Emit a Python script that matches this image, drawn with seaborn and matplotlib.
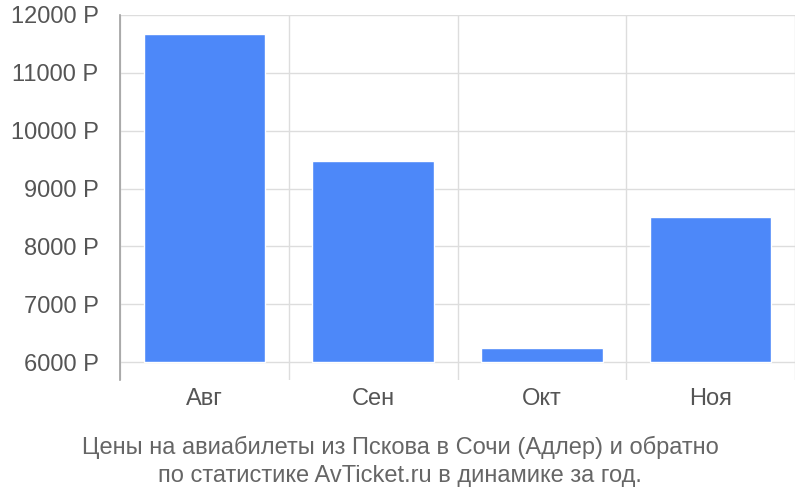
import matplotlib
matplotlib.use("Agg")
import matplotlib.pyplot as plt
import seaborn as sns
import pandas as pd

months = ["Авг", "Сен", "Окт", "Ноя"]
prices = [11670, 9480, 6240, 8505]
y_ticks = [6000, 7000, 8000, 9000, 10000, 11000, 12000]
title_text = "Цены на авиабилеты из Пскова в Сочи (Адлер) и обратно\nпо статистике AvTicket.ru в динамике за год."

sns.set_style("white")
plt.rcParams["font.family"] = ["Liberation Sans", "DejaVu Sans"]

df = pd.DataFrame({"month": months, "price": prices})

fig = plt.figure(figsize=(8, 5), dpi=100)
ax = fig.add_axes([0.15, 0.24, 0.84375, 0.73])

sns.barplot(data=df, x="month", y="price", color="#4d88f9", width=0.72,
            saturation=1, ax=ax, zorder=3)

# bars start from the 6000 line
base = y_ticks[0]
for p in ax.patches:
    h = p.get_height()
    p.set_y(base)
    p.set_height(h - base)

ax.set_ylim(5690, 12000)
ax.set_xlim(-0.5, len(months) - 0.5)
ax.set_yticks(y_ticks)
ax.set_yticklabels([f"{v} Р" for v in y_ticks])

grid_c = "#dddddd"
for v in y_ticks:
    ax.axhline(v, color=grid_c, lw=1, zorder=1)
for i in range(len(months) + 1):
    ax.axvline(i - 0.5, color=grid_c, lw=1, zorder=1)

for s in ["top", "right", "bottom"]:
    ax.spines[s].set_visible(False)
ax.spines["left"].set_color("#a0a0a0")
ax.spines["left"].set_linewidth(1.2)
ax.spines["left"].set_zorder(4)

ax.tick_params(axis="y", length=14.4, width=1, color=grid_c, pad=1,
               labelsize=17, labelcolor="#555555")
ax.tick_params(axis="x", length=0, pad=6, labelsize=17, labelcolor="#555555")
ax.set_xlabel("")
ax.set_ylabel("")

fig.text(0.5, 0.078, title_text, ha="center", va="center", fontsize=17,
         color="#666666", linespacing=1.35)

fig.savefig("out.png", dpi=100)
